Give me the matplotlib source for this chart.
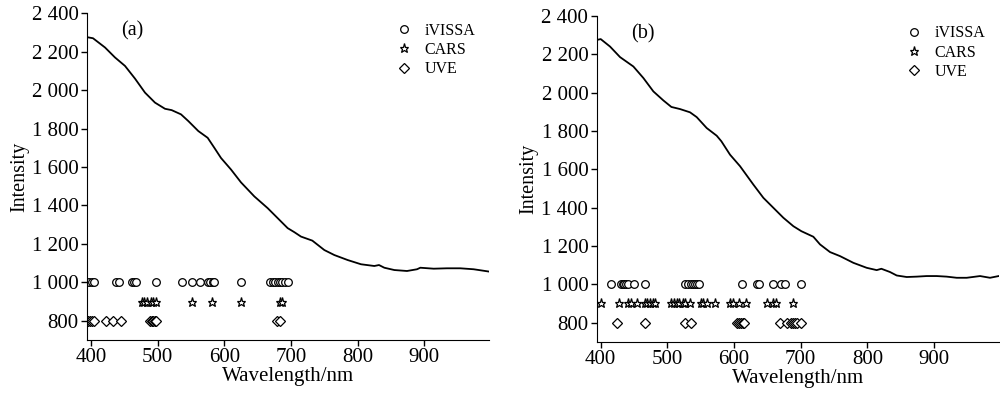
import numpy as np
import matplotlib
matplotlib.use("Agg")
import matplotlib.pyplot as plt
from matplotlib.ticker import FuncFormatter

plt.rcParams['font.family'] = ['Liberation Serif', 'DejaVu Serif']

# spectrum (a)
wl_a = [395, 403, 421, 436, 451, 466, 481, 496, 511, 521, 535, 546, 561, 575, 585, 595,
        610, 625, 645, 665, 680, 695, 705, 715, 732, 750, 765, 785, 805, 825, 832, 840,
        855, 874, 889, 894, 914, 934, 954, 974, 997]
int_a = [2275, 2270, 2222, 2170, 2126, 2060, 1987, 1935, 1903, 1896, 1874, 1839, 1787, 1752,
         1700, 1647, 1587, 1520, 1447, 1386, 1334, 1282, 1261, 1238, 1217, 1168, 1142, 1116,
         1094, 1085, 1090, 1076, 1064, 1059, 1068, 1076, 1071, 1073, 1073, 1068, 1056]

# spectrum (b)
wl_b = [395, 400, 414, 429, 449, 464, 479, 494, 506, 519, 534, 544, 559, 574, 581, 594,
        609, 629, 644, 659, 674, 689, 701, 719, 729, 744, 759, 779, 799, 814, 821, 834,
        844, 859, 874, 889, 904, 919, 934, 949, 969, 984, 997]
int_b = [2275, 2279, 2240, 2185, 2136, 2076, 2006, 1959, 1925, 1914, 1897, 1872, 1815, 1775,
         1746, 1676, 1616, 1520, 1451, 1399, 1347, 1303, 1277, 1248, 1208, 1168, 1147, 1112,
         1086, 1074, 1081, 1064, 1046, 1038, 1040, 1043, 1043, 1040, 1034, 1034, 1043, 1034, 1043]

# selected wavelengths (a)
ivissa_a = [393, 397, 401, 405, 438, 442, 461, 465, 468, 497, 536, 552, 564, 575, 579, 583,
            585, 625, 669, 673, 676, 680, 684, 687, 691, 695]
cars_a = [476, 480, 484, 490, 493, 497, 552, 581, 625, 683, 686]
uve_a = [394, 396, 399, 401, 405, 422, 433, 445, 488, 491, 493, 496, 498, 679, 683]

# selected wavelengths (b)
ivissa_b = [415, 430, 433, 435, 438, 441, 450, 466, 527, 531, 535, 538, 542, 545, 548, 612,
            634, 638, 659, 671, 676, 700]
cars_b = [400, 428, 441, 445, 454, 466, 470, 474, 478, 481, 506, 510, 514, 518, 523, 527, 534,
          550, 554, 559, 571, 594, 599, 608, 618, 649, 659, 663, 689]
uve_b = [425, 466, 527, 535, 605, 608, 610, 613, 615, 669, 679, 686, 689, 691, 695, 701]

LEVELS = {'iVISSA': 1000, 'CARS': 900, 'UVE': 800}


def fmt_y(v, pos):
    s = f"{int(v):d}"
    if len(s) > 3:
        s = s[:-3] + " " + s[-3:]
    return s


fig = plt.figure(figsize=(10, 3.97), dpi=100)
ax_a = fig.add_axes([0.087, 0.1436, 0.402, 0.823])
ax_b = fig.add_axes([0.5967, 0.139, 0.402, 0.821])

panels = [
    (ax_a, "(a)", wl_a, int_a, ivissa_a, cars_a, uve_a),
    (ax_b, "(b)", wl_b, int_b, ivissa_b, cars_b, uve_b),
]

for ax, tag, wl, inten, iv, ca, uv in panels:
    ax.plot(wl, inten, color='black', lw=1.3)
    ax.plot(iv, [LEVELS['iVISSA']] * len(iv), 'o', ms=5.5, mfc='white', mec='black',
            mew=0.9, ls='none', label='iVISSA')
    ax.plot(ca, [LEVELS['CARS']] * len(ca), '*', ms=6.5, mfc='white', mec='black',
            mew=0.9, ls='none', label='CARS')
    ax.plot(uv, [LEVELS['UVE']] * len(uv), 'D', ms=5, mfc='white', mec='black',
            mew=0.9, ls='none', label='UVE')

    ax.set_xlim(394, 997)
    ax.set_ylim(700, 2400)
    ax.set_xticks([400, 500, 600, 700, 800, 900])
    ax.set_yticks(np.arange(800, 2401, 200))
    ax.yaxis.set_major_formatter(FuncFormatter(fmt_y))
    ax.spines['top'].set_visible(False)
    ax.spines['right'].set_visible(False)
    ax.tick_params(direction='out', length=4, width=1, labelsize=15, pad=2)
    ax.set_xlabel("Wavelength/nm", fontsize=15, labelpad=0)
    ax.set_ylabel("Intensity", fontsize=14.5, labelpad=2)
    ax.text(0.085, 0.975, tag, transform=ax.transAxes, fontsize=14.5, va='top')
    ax.legend(loc='upper right', frameon=False, fontsize=11.5, handletextpad=0.7,
              borderaxespad=0.2, labelspacing=0.2, handlelength=1.2,
              bbox_to_anchor=(0.99, 1.0))

fig.savefig("out.png", dpi=100)
